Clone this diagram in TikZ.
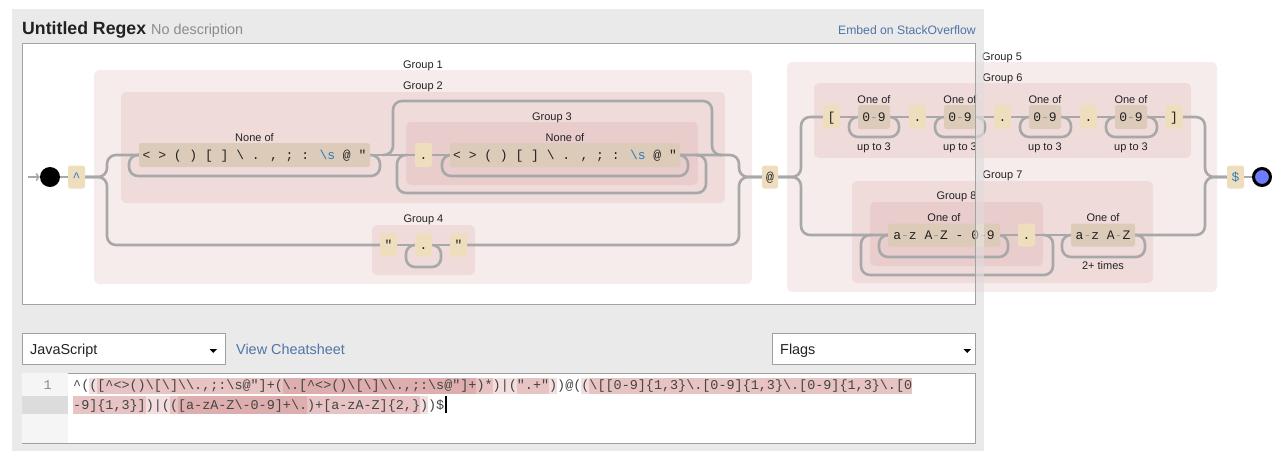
\documentclass[tikz,border=0pt]{standalone}
\usepackage{fontspec}
\setmainfont{Liberation Sans}
\newfontfamily\monofont{Liberation Mono}[Ligatures=TeXOff]
\usetikzlibrary{arrows.meta}
\definecolor{panelgray}{HTML}{EAEAEA}
\definecolor{boxline}{HTML}{A2A2A2}
\definecolor{railgray}{HTML}{A8A8A8}
\definecolor{litfill}{HTML}{EEDEBE}
\definecolor{setfill}{HTML}{DCCBB9}
\definecolor{grpfill}{HTML}{B44B4B}
\definecolor{hlred}{HTML}{BE5A5A}
\definecolor{anchorblue}{HTML}{2E7BB8}
\definecolor{linkblue}{HTML}{4E75A8}
\definecolor{endblue}{HTML}{6D7DFE}
\definecolor{textdark}{HTML}{222222}
\definecolor{descgray}{HTML}{8C8C8C}
\definecolor{rangegray}{HTML}{9A9A9A}
\definecolor{guttergray}{HTML}{F5F5F5}
\definecolor{activegray}{HTML}{DCDCDC}
\definecolor{editline}{HTML}{A0A0A0}
\definecolor{codetext}{HTML}{444444}
\newcommand\myBS{\textbackslash}
\newcommand\myCa{\textasciicircum}
\newcommand\myrng{\textcolor{rangegray}{-}}
\newcommand\myboxfont{\monofont\fontsize{13}{13}\selectfont}
\newcommand\mylblfont{\fontsize{11}{11}\selectfont}
\newcommand\mycodefont{\monofont\fontsize{13.445}{16}\selectfont}
\newcommand\myuifont{\fontsize{14.4}{16}\selectfont}
\pgfdeclarelayer{bg}
\pgfdeclarelayer{grp}
\pgfdeclarelayer{rails}
\pgfdeclarelayer{top}
\pgfsetlayers{bg,grp,rails,main,top}
\tikzset{
  rail/.style={draw=railgray, line width=2.6pt, rounded corners=9pt},
  litbox/.style={fill=litfill, rounded corners=2.5pt, minimum width=17pt, minimum height=24pt, inner sep=0pt, text height=10.5pt, text depth=1.5pt, font=\myboxfont, text=textdark},
  setbox/.style={fill=setfill, rounded corners=2.5pt, minimum height=24pt, inner sep=0pt, text height=10.5pt, text depth=1.5pt, font=\myboxfont, text=textdark},
  grp/.style={fill=grpfill, fill opacity=0.1, rounded corners=5pt},
  lbl/.style={font=\mylblfont, text=textdark, inner sep=0pt, anchor=base},
  hl/.style={fill=hlred, fill opacity=0.2},
  ddbox/.style={fill=white, draw=editline, line width=0.8pt},
}
\begin{document}
\begin{tikzpicture}[x=1pt,y=-1pt]
\useasboundingbox (0,0) rectangle (1280,451);
\begin{pgfonlayer}{bg}
\fill[white] (0,0) rectangle (1280,451);
\fill[panelgray] (12,9) rectangle (984,451);
\fill[white] (22,43) rectangle (975,304);
\end{pgfonlayer}

% header
\node[anchor=base west, inner sep=0pt, font=\fontsize{17.7}{20}\selectfont\bfseries, text=textdark] (title) at (22,34) {Untitled Regex};
\node[anchor=base west, inner sep=0pt, font=\myuifont, text=descgray] (desc) at (151,34) {No description};
\node[anchor=base east, inner sep=0pt, font=\fontsize{12.2}{14}\selectfont, text=linkblue] (embed) at (976,34) {Embed on StackOverflow};

% groups
\begin{pgfonlayer}{grp}
\fill[grp] (94,70) rectangle (752,284);
\fill[grp] (121,92) rectangle (725,203);
\fill[grp] (406,122) rectangle (698,185);
\fill[grp] (372,225) rectangle (475,275);
\fill[grp] (787,62) rectangle (1217,292);
\fill[grp] (814,83) rectangle (1191,158);
\fill[grp] (852,181) rectangle (1153,283);
\fill[grp] (870,202) rectangle (1043,266);
\end{pgfonlayer}

\node[lbl] (g1lbl) at (423,68) {Group 1};
\node[lbl] (g2lbl) at (423,89) {Group 2};
\node[lbl] (g3lbl) at (552,120) {Group 3};
\node[lbl] (g4lbl) at (423.5,222) {Group 4};
\node[lbl] (g5lbl) at (1002,60) {Group 5};
\node[lbl] (g6lbl) at (1002.5,81) {Group 6};
\node[lbl] (g7lbl) at (1002.5,178) {Group 7};
\node[lbl] (g8lbl) at (956.5,199) {Group 8};

% terminals and boxes
\node[circle, fill=black, minimum size=20pt, inner sep=0pt] (start) at (50,177) {};
\coordinate (arrowtail) at (28,177);
\node[litbox, minimum height=23pt] (caret) at (76.5,177) {\textcolor{anchorblue}{\myCa}};
\node[setbox, minimum width=231pt] (none1) at (254.5,155) {< > ( ) [ ] \myBS{} . , ; : \textcolor{anchorblue}{\myBS s} @ "};
\node[lbl] (none1lbl) at (254.5,141) {None of};
\node[litbox] (dot1) at (423.5,155) {.};
\node[setbox, minimum width=230pt] (none2) at (565,155) {< > ( ) [ ] \myBS{} . , ; : \textcolor{anchorblue}{\myBS s} @ "};
\node[lbl] (none2lbl) at (565,141) {None of};
\node[litbox, minimum height=23pt] (quote1) at (388.5,245) {"};
\node[litbox, minimum height=23pt] (dot2) at (423.5,245) {.};
\node[litbox, minimum height=23pt] (quote2) at (458.5,245) {"};
\node[litbox, minimum width=16pt, minimum height=23pt] (at) at (770,177) {@};

\node[litbox] (lbr) at (831.5,117) {[};
\node[setbox, minimum width=32pt] (d1) at (874,117) {0\myrng 9};
\node[litbox] (p1) at (917.5,117) {.};
\node[setbox, minimum width=32pt] (d2) at (960,117) {0\myrng 9};
\node[litbox] (p2) at (1002.5,117) {.};
\node[setbox, minimum width=32pt] (d3) at (1045,117) {0\myrng 9};
\node[litbox] (p3) at (1088.5,117) {.};
\node[setbox, minimum width=32pt] (d4) at (1131,117) {0\myrng 9};
\node[litbox] (rbr) at (1174,117) {]};
\foreach \cx/\nm in {874/a,960/b,1045/c,1131/d}{
  \node[lbl] (oneof\nm) at (\cx,103) {One of};
  \node[lbl] (upto\nm) at (\cx,150) {up to 3};
}

\node[setbox, minimum width=112pt, minimum height=23pt] (az1) at (944,235) {a\myrng z A\myrng Z - 0\myrng 9};
\node[lbl] (az1lbl) at (944,221) {One of};
\node[litbox, minimum height=23pt] (dot3) at (1026.5,235) {.};
\node[setbox, minimum width=64pt, minimum height=23pt] (az2) at (1103,235) {a\myrng z A\myrng Z};
\node[lbl] (az2lbl) at (1103,221) {One of};
\node[lbl] (az2rep) at (1103,269) {2+ times};

\node[litbox, minimum height=23pt] (dollar) at (1235.5,177) {\textcolor{anchorblue}{\$}};
\node[circle, fill=endblue, draw=black, line width=3pt, minimum size=17pt, inner sep=0pt] (finish) at (1262,177) {};

% rails
\begin{pgfonlayer}{rails}
\draw[draw=railgray, line width=1.6pt, -{To[length=4pt,width=8pt]}] (arrowtail) -- (start.west);
\draw[rail] (start.east) -- (caret.west);
\coordinate (split1) at (107,177);
\draw[rail] (caret.east) -- (split1) -- (107,155) -- (none1.west);
\draw[rail] (caret.east) -- (split1) -- (107,245) -- (quote1.west);
\draw[rail] (none1.west) -- (129,155) -- (129,176) -- (380,176) -- (380,155) -- (none1.east);
\draw[rail] (none1.east) -- (dot1.west);
\draw[rail] (dot1.east) -- (none2.west);
\draw[rail] (none2.west) -- (442,155) -- (442,176) -- (688,176) -- (688,155) -- (none2.east);
\draw[rail] (407,155) -- (397,155) -- (397,193) -- (706,193) -- (706,155) -- (696,155);
\draw[rail] (383,155) -- (393,155) -- (393,101) -- (712,101) -- (712,155) -- (722,155);
\coordinate (join1) at (739,177);
\draw[rail] (none2.east) -- (739,155) -- (join1) -- (at.west);
\draw[rail] (quote2.east) -- (739,245) -- (join1) -- (at.west);
\draw[rail] (quote1.east) -- (dot2.west);
\draw[rail] (dot2.west) -- (406,245) -- (406,267) -- (441,267) -- (441,245) -- (dot2.east);
\draw[rail] (dot2.east) -- (quote2.west);

\coordinate (split2) at (801,177);
\draw[rail] (at.east) -- (split2) -- (801,117) -- (lbr.west);
\draw[rail] (at.east) -- (split2) -- (801,235) -- (az1.west);
\draw[rail] (lbr.east) -- (d1.west);
\draw[rail] (d1.east) -- (p1.west);
\draw[rail] (p1.east) -- (d2.west);
\draw[rail] (d2.east) -- (p2.west);
\draw[rail] (p2.east) -- (d3.west);
\draw[rail] (d3.east) -- (p3.west);
\draw[rail] (p3.east) -- (d4.west);
\draw[rail] (d4.east) -- (rbr.west);
\draw[rail] (d1.west) -- (849,117) -- (849,137) -- (899,137) -- (899,117) -- (d1.east);
\draw[rail] (d2.west) -- (935,117) -- (935,137) -- (985,137) -- (985,117) -- (d2.east);
\draw[rail] (d3.west) -- (1020,117) -- (1020,137) -- (1071,137) -- (1071,117) -- (d3.east);
\draw[rail] (d4.west) -- (1106,117) -- (1106,137) -- (1157,137) -- (1157,117) -- (d4.east);
\coordinate (join2) at (1205,177);
\draw[rail] (rbr.east) -- (1205,117) -- (join2) -- (dollar.west);
\draw[rail] (az2.east) -- (1205,235) -- (join2) -- (dollar.west);
\draw[rail] (dollar.east) -- (finish.west);

\draw[rail] (871,235) -- (861,235) -- (861,275) -- (1053,275) -- (1053,235) -- (1043,235);
\draw[rail] (az1.west) -- (879,235) -- (879,257) -- (1008,257) -- (1008,235) -- (az1.east);
\draw[rail] (az1.east) -- (dot3.west);
\draw[rail] (dot3.east) -- (az2.west);
\draw[rail] (az2.west) -- (1062,235) -- (1062,257) -- (1145,257) -- (1145,235) -- (az2.east);
\end{pgfonlayer}

% overflow strip and diagram frame on top
\begin{pgfonlayer}{top}
\fill[panelgray, opacity=0.55] (975,43) rectangle (984,304);
\draw[boxline, line width=1pt] (22,43) rectangle (975,304);
\end{pgfonlayer}

% dropdowns
\draw[ddbox] (22,333) rectangle (225,364);
\node[anchor=base west, inner sep=0pt, font=\myuifont, text=textdark] (jslbl) at (30,354) {JavaScript};
\fill[black] (209.5,349) -- (217,349) -- (213.25,353) -- cycle;
\node[anchor=base west, inner sep=0pt, font=\myuifont, text=linkblue] (cheat) at (236,354) {View Cheatsheet};
\draw[ddbox] (772,333) rectangle (975,364);
\node[anchor=base west, inner sep=0pt, font=\myuifont, text=textdark] (flagslbl) at (780,354) {Flags};
\fill[black] (963.5,349) -- (971,349) -- (967.25,353) -- cycle;

% editor
\draw[ddbox] (22,373) rectangle (975,443);
\fill[guttergray] (22.4,373.4) rectangle (68,442.6);
\fill[activegray] (22.4,395.5) rectangle (68,413.5);
\node[anchor=base east, inner sep=0pt, font=\mycodefont, text=descgray] (lineno) at (52,389) {1};

% highlights line 1
\fill[hl] (89.13,377.5) rectangle (557.0,393.5);
\fill[hl] (581.2,377.5) rectangle (912.0,393.5);
\fill[hl] (97.2,377.5) rectangle (492.5,393.5);
\fill[hl] (516.7,377.5) rectangle (549.0,393.5);
\fill[hl] (589.3,377.5) rectangle (912.0,393.5);
\fill[hl] (282.7,377.5) rectangle (476.35,393.5);
% highlights line 2
\fill[hl] (73,395.5) rectangle (427.9,413.5);
\fill[hl] (73,395.5) rectangle (145.6,413.5);
\fill[hl] (169.8,395.5) rectangle (419.9,413.5);
\fill[hl] (177.9,395.5) rectangle (306.9,413.5);

\node[anchor=base west, inner sep=0pt, font=\mycodefont, text=codetext] (code1) at (73,389) {\myCa(([\myCa<>()\myBS[\myBS]\myBS\myBS.,;:\myBS s@"]+(\myBS.[\myCa<>()\myBS[\myBS]\myBS\myBS.,;:\myBS s@"]+)*)|(".+"))@((\myBS[[0-9]\{1,3\}\myBS.[0-9]\{1,3\}\myBS.[0-9]\{1,3\}\myBS.[0};
\node[anchor=base west, inner sep=0pt, font=\mycodefont, text=codetext] (code2) at (73,409) {-9]\{1,3\}])|(([a-zA-Z\myBS-0-9]+\myBS.)+[a-zA-Z]\{2,\}))\$};
\fill[black] (444.5,396) rectangle (446.5,413);
\end{tikzpicture}
\end{document}
